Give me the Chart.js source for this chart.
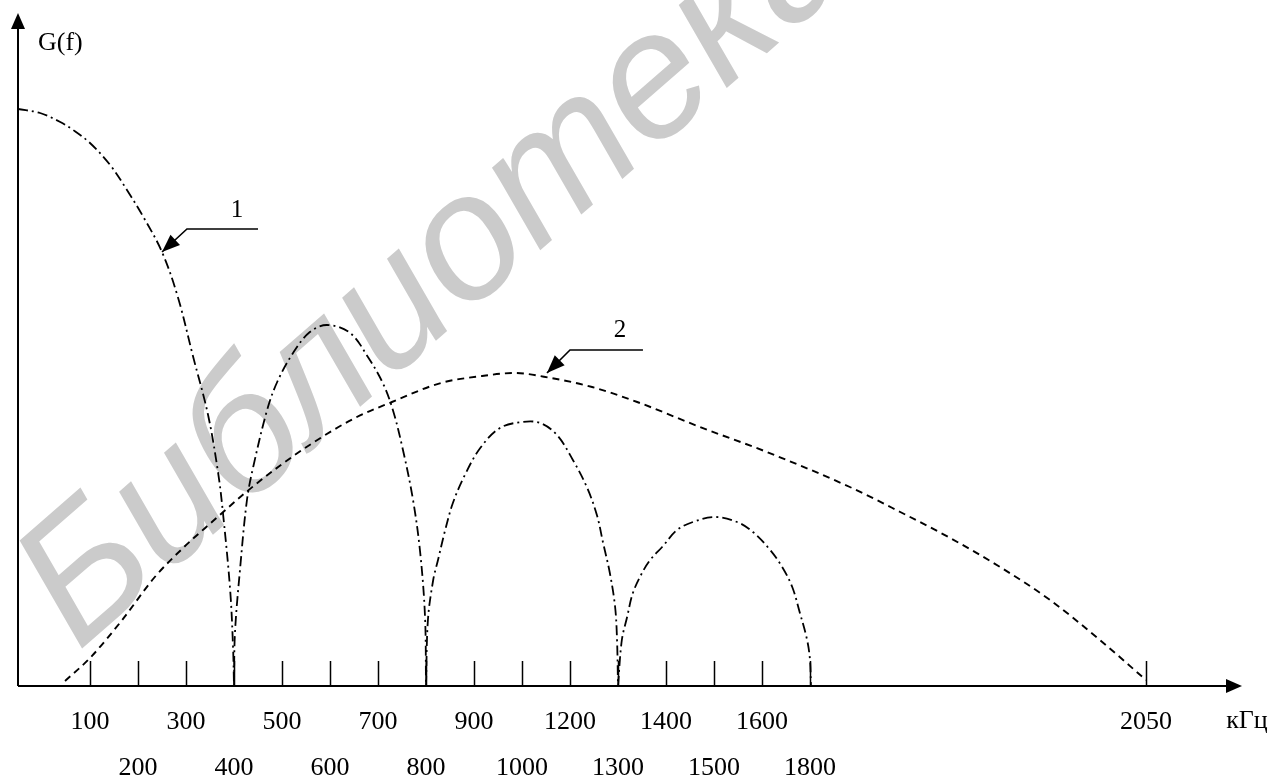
<!DOCTYPE html>
<html>
<head>
<meta charset="utf-8">
<script src="https://cdn.jsdelivr.net/npm/chart.js@4.4.0/dist/chart.umd.min.js"></script>
<style>
  html, body { margin: 0; padding: 0; background: #fff; }
  #wrap { width: 1274px; height: 781px; }
</style>
</head>
<body>
<div id="wrap"><canvas id="spectrum"></canvas></div>
<script>
// x axis is drawn in "tick steps": one step per tick mark, 2050 sits far right
const tickPos = [1, 2, 3, 4, 5, 6, 7, 8, 9, 10, 11, 12, 13, 14, 15, 16, 23];
const tickLabels = ["100", "200", "300", "400", "500", "600", "700", "800",
  "900", "1000", "1200", "1300", "1400", "1500", "1600", "1800", "2050"];

// curve 1 (dash-dot), one lobe per array: [x in tick steps, G(f)]
const lobe1 = [[-0.5, 577], [-0.04, 573], [0.38, 564], [0.65, 556], [1.0, 543],
  [1.42, 521], [1.77, 496], [2.1, 470], [2.5, 434], [2.83, 389], [3.15, 329],
  [3.46, 271], [3.67, 213], [3.77, 173], [3.92, 96], [3.98, 39], [4.0, 0]];
const lobe2 = [[4.0, 0], [4.02, 53], [4.13, 119], [4.27, 186], [4.4, 219],
  [4.69, 276], [4.9, 304], [5.23, 333], [5.58, 354], [5.94, 361], [6.42, 353],
  [6.79, 329], [7.1, 303], [7.31, 276], [7.52, 236], [7.73, 186], [7.88, 133],
  [7.98, 69], [8.0, 0]];
const lobe3 = [[8.0, 0], [8.04, 66], [8.15, 106], [8.25, 126], [8.4, 156],
  [8.56, 183], [8.81, 211], [9.13, 238], [9.54, 258], [10.0, 264], [10.38, 263],
  [10.73, 251], [11.06, 226], [11.35, 199], [11.56, 171], [11.69, 143],
  [11.83, 113], [11.94, 79], [11.98, 46], [12.0, 0]];
const lobe4 = [[12.0, 0], [12.08, 46], [12.19, 69], [12.31, 93], [12.5, 113],
  [12.67, 126], [12.92, 139], [13.23, 156], [13.56, 164], [14.02, 169],
  [14.48, 164], [14.81, 154], [15.17, 136], [15.42, 119], [15.63, 99],
  [15.79, 73], [15.94, 46], [16.0, 26], [16.02, 0]];

// curve 2 (dashed)
const curve2 = [[0.48, 5], [1.0, 28], [1.67, 66], [2.35, 109], [2.96, 139],
  [3.54, 164], [4.23, 193], [4.92, 219], [5.67, 244], [6.52, 268], [7.29, 284],
  [8.31, 303], [9.17, 310], [9.83, 313], [10.6, 308], [11.46, 299], [12.4, 284],
  [13.71, 259], [15.1, 234], [16.83, 199], [17.88, 174], [18.92, 148],
  [19.96, 119], [21.0, 86], [22.04, 46], [23.0, 6]];

// callouts: arrow tip on the curve, knee, end of shelf, label position
const callouts = [
  { text: "1", tip: [2.5, 434], knee: [3.02, 457], end: [4.5, 457], at: [4.06, 476] },
  { text: "2", tip: [10.52, 313], knee: [11.0, 336], end: [12.52, 336], at: [12.04, 356] },
];

const SERIF = '"Liberation Serif", "Times New Roman", serif';
const toPoints = (arr) => arr.map(([x, y]) => ({ x, y }));

const dashDot = (data) => ({
  data: toPoints(data),
  borderColor: "#000",
  borderWidth: 1.8,
  borderDash: [10, 4, 2, 4],
  pointRadius: 0,
  tension: 0.35,
});

function arrowHead(ctx, tx, ty, ang, len, half) {
  ctx.beginPath();
  ctx.moveTo(tx, ty);
  ctx.lineTo(tx - len * Math.cos(ang) + half * Math.sin(ang), ty - len * Math.sin(ang) - half * Math.cos(ang));
  ctx.lineTo(tx - len * Math.cos(ang) - half * Math.sin(ang), ty - len * Math.sin(ang) + half * Math.cos(ang));
  ctx.closePath();
  ctx.fill();
}

const watermark = {
  id: "watermark",
  beforeDatasetsDraw(chart) {
    const ctx = chart.ctx;
    ctx.save();
    ctx.translate(78, 652);
    ctx.rotate(-41 * Math.PI / 180);
    ctx.font = 'italic 178px "Liberation Sans", Arial, sans-serif';
    ctx.fillStyle = "#cbcbcb";
    ctx.fillText("Библиотека", 0, 0);
    ctx.restore();
  },
};

const frame = {
  id: "frame",
  afterDatasetsDraw(chart) {
    const { ctx, chartArea: a, scales: { x, y } } = chart;
    ctx.save();
    ctx.strokeStyle = "#000";
    ctx.fillStyle = "#000";

    // axes with arrows
    ctx.lineWidth = 2;
    ctx.beginPath();
    ctx.moveTo(a.left, a.bottom);
    ctx.lineTo(a.left, a.top + 10);
    ctx.moveTo(a.left, a.bottom);
    ctx.lineTo(a.right - 10, a.bottom);
    ctx.stroke();
    arrowHead(ctx, a.left, a.top, -Math.PI / 2, 16, 7);
    arrowHead(ctx, a.right, a.bottom, 0, 16, 7);

    // tick marks pointing up into the plot
    ctx.lineWidth = 1.5;
    ctx.beginPath();
    tickPos.forEach((v) => {
      const px = Math.round(x.getPixelForValue(v)) + 0.5;
      ctx.moveTo(px, a.bottom);
      ctx.lineTo(px, a.bottom - 25);
    });
    ctx.stroke();

    ctx.font = "26px " + SERIF;
    ctx.textBaseline = "alphabetic";
    ctx.textAlign = "left";
    ctx.fillText("G(f)", a.left + 20, 50);
    ctx.textAlign = "center";
    ctx.textBaseline = "middle";
    ctx.fillText("кГц", a.right + 5, 721);

    // numbered callouts
    ctx.lineWidth = 1.6;
    ctx.font = "25px " + SERIF;
    callouts.forEach((c) => {
      const tx = x.getPixelForValue(c.tip[0]), ty = y.getPixelForValue(c.tip[1]);
      const kx = x.getPixelForValue(c.knee[0]), ky = y.getPixelForValue(c.knee[1]);
      const ex = x.getPixelForValue(c.end[0]);
      ctx.beginPath();
      ctx.moveTo(ex, ky);
      ctx.lineTo(kx, ky);
      ctx.lineTo(tx, ty);
      ctx.stroke();
      arrowHead(ctx, tx, ty, Math.atan2(ty - ky, tx - kx), 18, 7);
      ctx.fillText(c.text, x.getPixelForValue(c.at[0]), y.getPixelForValue(c.at[1]));
    });
    ctx.restore();
  },
};

new Chart(document.getElementById("spectrum"), {
  type: "line",
  data: {
    datasets: [
      dashDot(lobe1),
      dashDot(lobe2),
      dashDot(lobe3),
      dashDot(lobe4),
      {
        data: toPoints(curve2),
        borderColor: "#000",
        borderWidth: 1.9,
        borderDash: [7, 5],
        pointRadius: 0,
        cubicInterpolationMode: "monotone",
      },
    ],
  },
  options: {
    responsive: true,
    maintainAspectRatio: false,
    animation: false,
    layout: { padding: { left: 18, top: 13, right: 32, bottom: 0 } },
    plugins: { legend: { display: false }, tooltip: { enabled: false } },
    scales: {
      x: {
        type: "linear",
        min: -0.5,
        max: 25,
        grid: { display: false, drawTicks: false },
        border: { display: false },
        afterBuildTicks: (scale) => {
          scale.ticks = tickPos.map((v) => ({ value: v }));
        },
        afterFit: (scale) => {
          scale.height = 95;
        },
        ticks: {
          autoSkip: false,
          maxRotation: 0,
          padding: 13,
          color: "#000",
          font: { family: SERIF, size: 26, lineHeight: 46 / 26 },
          // odd ticks on the first row, even ticks on the second
          callback: (v) => {
            const i = tickPos.indexOf(v);
            const lbl = tickLabels[i];
            return i % 2 === 0 ? [lbl, ""] : ["", lbl];
          },
        },
      },
      y: { type: "linear", display: false, min: 0, max: 673 },
    },
  },
  plugins: [watermark, frame],
});
</script>
</body>
</html>
